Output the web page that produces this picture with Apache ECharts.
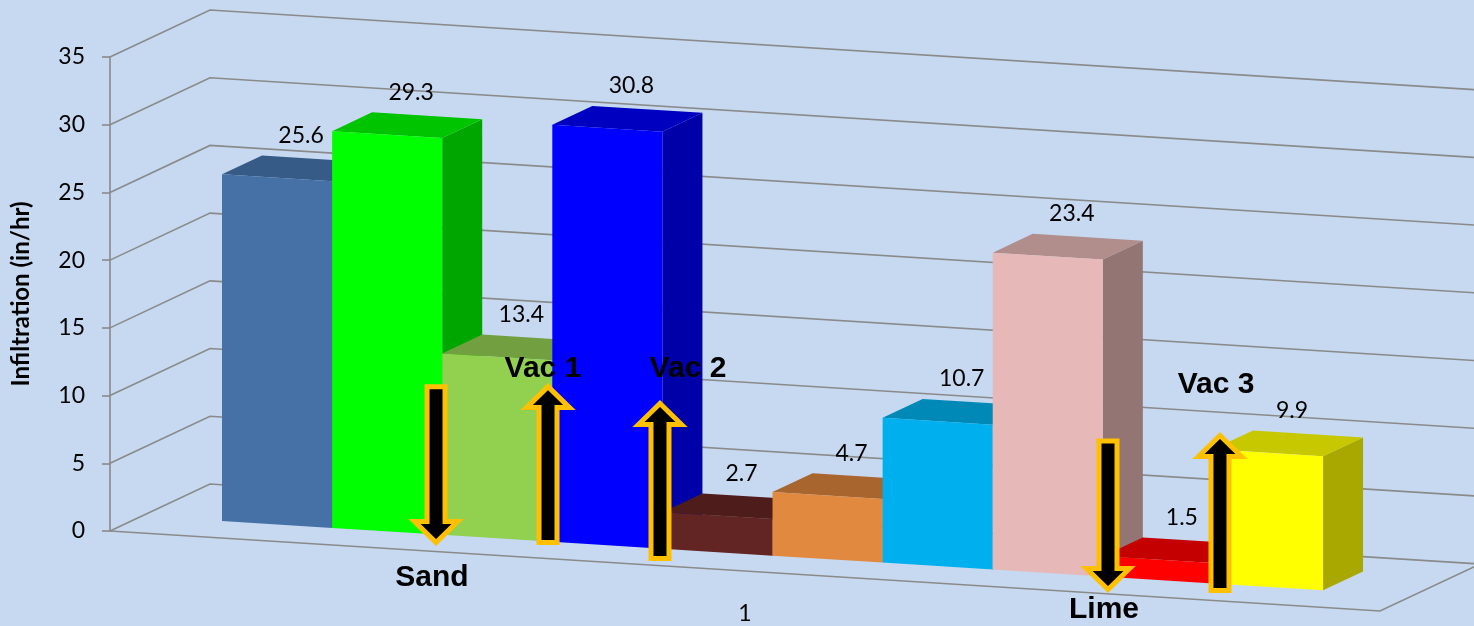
<!DOCTYPE html>
<html><head><meta charset="utf-8">
<script src="https://cdn.jsdelivr.net/npm/echarts@6/dist/echarts.min.js"></script>
<style>html,body{margin:0;padding:0;background:#c6d9f1}#c{width:1474px;height:626px}</style>
</head><body><div id="c"></div>
<script>
// ---- data ----
const categories = ['1'];
const values = [25.6, 29.3, 13.4, 30.8, 2.7, 4.7, 10.7, 23.4, 1.5, 9.9];
const yTicks = [0, 5, 10, 15, 20, 25, 30, 35];
const frontColors = ['#4571a7', '#00ff00', '#92d050', '#0000ff', '#632523', '#e0893f', '#00b0ee', '#e6b8b7', '#ff0000', '#ffff00'];
const topColors   = ['#365b86', '#00c400', '#72a040', '#0000c0', '#4e1c1b', '#a9652e', '#0089b7', '#b18d8b', '#c40000', '#c8c800'];
const sideColors  = ['#2f4f75', '#00a600', '#6b9a3c', '#0000a8', '#441816', '#9a5c2a', '#007aa3', '#937573', '#a80000', '#a8a800'];
// annotation arrows: position along the bar row (bar units), tail value, tip value; text anchor [bar units, value]
const annotations = [
  { text: 'Sand',  at: 1.944, from: 11.1, to: -0.85, textAt: [1.907, -3.23] },
  { text: 'Vac 1', at: 2.961, from: -0.25, to: 11.7, textAt: [2.915, 12.73] },
  { text: 'Vac 2', at: 3.978, from: -0.92, to: 10.97, textAt: [4.232, 13.4] },
  { text: 'Lime',  at: 8.047, from: 10.22, to: -1.19, textAt: [8.011, -2.47] },
  { text: 'Vac 3', at: 9.064, from: -0.67, to: 11.22, textAt: [9.028, 14.68] }
];

// ---- oblique projection settings ----
const XMIN = -0.7266, XMAX = 10.808;
const DX = 100, DY = 47, SLOPE = 0.063, D0 = 0.32, D1 = 0.72;
const FONT = 'Lato, "Open Sans", sans-serif';

function proj(api, c, v, d) {
  const p = api.coord([c, v]);
  const x0 = api.coord([XMIN, 0])[0];
  return [p[0] + d * DX, p[1] + SLOPE * (p[0] - x0) - d * DY];
}

const chart = echarts.init(document.getElementById('c'));
const gridStyle = { stroke: '#8a8a8a', lineWidth: 1.6, fill: null };

chart.setOption({
  backgroundColor: '#c6d9f1',
  animation: false,
  grid: { left: 110, right: 94, top: 57, bottom: 95, containLabel: false },
  xAxis: [
    { type: 'category', data: categories, axisLine: { show: false }, axisTick: { show: false },
      axisLabel: { margin: 71, fontSize: 23, color: '#000', fontFamily: FONT }, splitLine: { show: false } },
    { type: 'value', min: XMIN, max: XMAX, show: false, splitLine: { show: false } }
  ],
  yAxis: {
    type: 'value', min: 0, max: 35, interval: 5,
    name: 'Infiltration (in/hr)', nameLocation: 'middle', nameGap: 77,
    nameTextStyle: { fontWeight: 'bold', fontSize: 24, color: '#000', fontFamily: FONT },
    axisLine: { show: true, onZero: false, lineStyle: { color: '#8a8a8a', width: 1.6 } },
    axisTick: { show: true, length: 8, lineStyle: { color: '#8a8a8a', width: 1.6 } },
    axisLabel: { margin: 25, fontSize: 23, color: '#000', fontFamily: FONT },
    splitLine: { show: false }
  },
  series: [
    { // walls and floor grid
      type: 'custom', xAxisIndex: 1, yAxisIndex: 0, clip: false, z: 1, silent: true,
      data: yTicks.map(v => [XMIN, v]),
      renderItem: function (params, api) {
        const v = api.value(1);
        const children = [{
          type: 'polyline',
          shape: { points: [proj(api, XMIN, v, 0), proj(api, XMIN, v, 1), proj(api, XMAX + 1, v, 1)] },
          style: gridStyle
        }];
        if (v === 0) {
          children.push({
            type: 'polyline',
            shape: { points: [proj(api, XMIN, 0, 0), proj(api, XMAX, 0, 0), proj(api, XMAX, 0, 1)] },
            style: gridStyle
          });
        }
        return { type: 'group', children: children };
      }
    },
    { // 3D bars
      type: 'custom', xAxisIndex: 1, yAxisIndex: 0, clip: false, z: 2,
      data: values.map((v, i) => [i, v]),
      renderItem: function (params, api) {
        const i = api.value(0), v = api.value(1), k = params.dataIndex;
        const fbl = proj(api, i, 0, D0), fbr = proj(api, i + 1, 0, D0);
        const ftl = proj(api, i, v, D0), ftr = proj(api, i + 1, v, D0);
        const btl = proj(api, i, v, D1), btr = proj(api, i + 1, v, D1), bbr = proj(api, i + 1, 0, D1);
        return { type: 'group', children: [
          { type: 'polygon', shape: { points: [fbr, bbr, btr, ftr] }, style: { fill: sideColors[k] } },
          { type: 'polygon', shape: { points: [ftl, ftr, btr, btl] }, style: { fill: topColors[k] } },
          { type: 'polygon', shape: { points: [fbl, fbr, ftr, ftl] }, style: { fill: frontColors[k] } }
        ] };
      }
    },
    { // value labels
      type: 'custom', xAxisIndex: 1, yAxisIndex: 0, clip: false, z: 3,
      data: values.map((v, i) => [i, v]),
      renderItem: function (params, api) {
        const i = api.value(0), v = api.value(1);
        const p = proj(api, i + 0.5, v, (D0 + D1) / 2);
        return { type: 'text', x: p[0] + 4, y: p[1] - 33,
          style: { text: String(v), fill: '#000', font: '23px ' + FONT, align: 'center', verticalAlign: 'middle' } };
      }
    },
    { // annotation arrows and texts
      type: 'custom', xAxisIndex: 1, yAxisIndex: 0, clip: false, z: 4,
      data: annotations.map((a, i) => [a.at, a.from, i]),
      renderItem: function (params, api) {
        const a = annotations[params.dataIndex];
        const t = proj(api, a.at, a.from, D0), h = proj(api, a.at, a.to, D0);
        const s = h[1] > t[1] ? 1 : -1;
        const x = t[0], sw = 9, hw = 21.5, hl = 21;
        const yt = t[1] + s * 2.5, yh = h[1] - s * 3.5, hb = yh - s * hl;
        const pts = [[x - sw, yt], [x + sw, yt], [x + sw, hb], [x + hw, hb], [x, yh], [x - hw, hb], [x - sw, hb]];
        const tp = proj(api, a.textAt[0], a.textAt[1], D0);
        return { type: 'group', children: [
          { type: 'polygon', shape: { points: pts }, style: { fill: '#000', stroke: '#ffc000', lineWidth: 5, lineJoin: 'miter' } },
          { type: 'text', x: tp[0], y: tp[1], z2: 10,
            style: { text: a.text, fill: '#000', font: 'bold 30px "Liberation Sans", Arial, sans-serif', align: 'center', verticalAlign: 'middle' } }
        ] };
      }
    }
  ]
});
</script>
</body></html>
